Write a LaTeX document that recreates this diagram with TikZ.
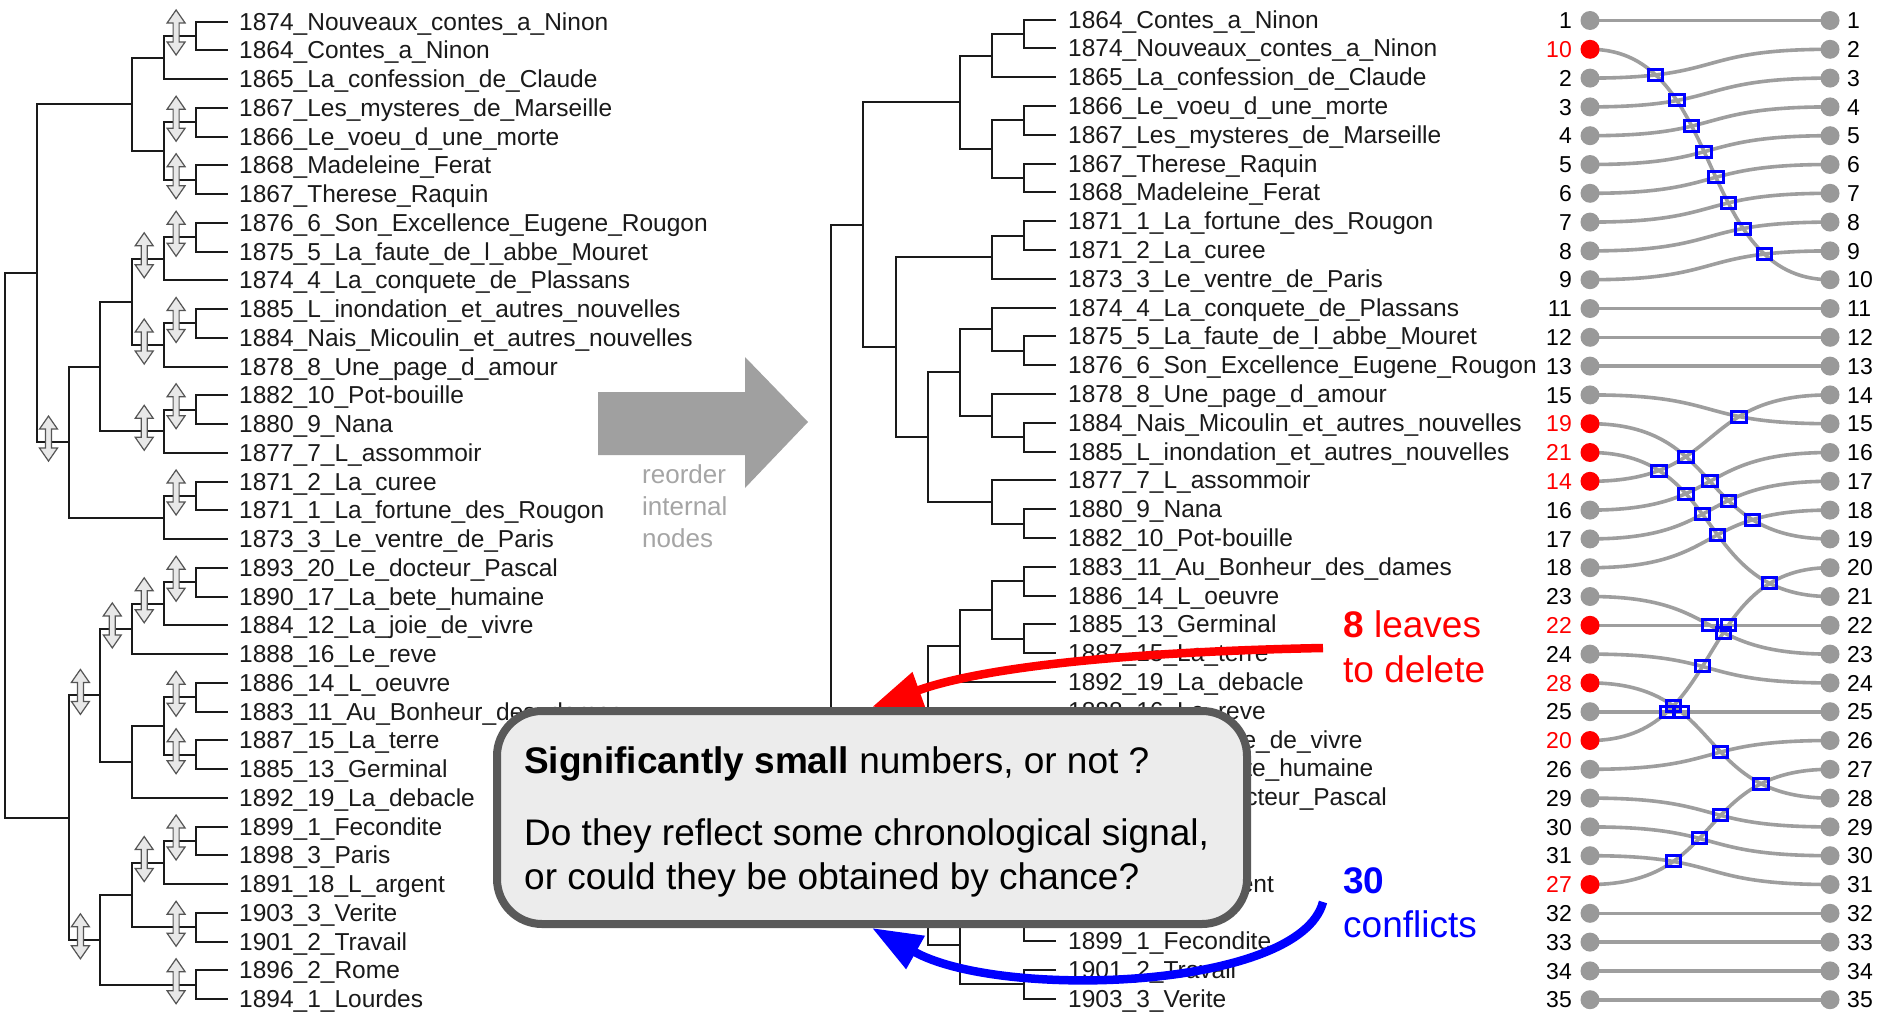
\documentclass[tikz,border=0pt]{standalone}
\usepackage{fontspec}
\setmainfont{Liberation Sans}
\usetikzlibrary{calc,arrows.meta}

\definecolor{treeink}{HTML}{1A1A1A}
\definecolor{linkgray}{HTML}{9E9E9E}
\definecolor{dotgray}{HTML}{999999}
\definecolor{bigarrowgray}{HTML}{A0A0A0}
\definecolor{notegray}{HTML}{A5A5A5}
\definecolor{boxfill}{HTML}{ECECEC}
\definecolor{boxedge}{HTML}{595959}
\definecolor{swapfill}{HTML}{E8E8E8}
\definecolor{swapedge}{HTML}{555555}
\definecolor{delred}{HTML}{FF0000}
\definecolor{conflictblue}{HTML}{0000FF}

% internal node: name, level coordinate, upper child, lower child
\newcommand\joinclade[4]{%
  \coordinate (#1m) at ($(#3)!0.5!(#4)$);
  \coordinate (#1) at (#2 |- #1m);
  \draw[branch] (#3) -| (#1) |- (#4);
}
% double arrow marking a rotated node
\newcommand\swapmark[1]{%
  \draw[swapglyph] ($(#1)+(-20,-3.5)$) ++(0,-22.5) -- ++(9,13) -- ++(-6,0) -- ++(0,19)
    -- ++(6,0) -- ++(-9,13) -- ++(-9,-13) -- ++(6,0) -- ++(0,-19) -- ++(-6,0) -- cycle;
}
% crossing of two links: row1, value1, row2, value2
\newcommand\conflict[4]{%
  \pgfmathsetmacro\cfS{(#3-#1)/((#3-#1)+(#2-#4))}%
  \pgfmathsetmacro\cfT{0.5-sin(asin(1-2*\cfS)/3)}%
  \pgfmathsetmacro\cfX{1590+405*\cfT*(1-\cfT)^2+315*\cfT^2*(1-\cfT)+240*\cfT^3}%
  \pgfmathsetmacro\cfY{20.5+28.8*(#1-1+\cfS*(#2-#1))}%
  \node[conflictbox] (k#1x#3) at (\cfX,\cfY) {};
}

\begin{document}
\begin{tikzpicture}[x=1pt,y=-1pt,
  branch/.style={draw=treeink,line width=2pt},
  swapglyph/.style={draw=swapedge,fill=swapfill,line width=1.2pt,line join=miter},
  leaftext/.style={anchor=base west,inner sep=0pt,text=treeink,font=\fontsize{24.5}{28}\selectfont},
  link/.style={draw=linkgray,line width=3.6pt},
  leafdot/.style={circle,inner sep=0pt,minimum size=19pt},
  numtext/.style={inner sep=0pt,font=\fontsize{23}{26}\selectfont},
  conflictbox/.style={draw=conflictblue,line width=3pt,minimum width=14.5pt,minimum height=11pt,inner sep=0pt},
  callout/.style={draw=boxedge,fill=boxfill,line width=8pt,rounded corners=45pt,minimum width=750pt,minimum height=213pt,inner sep=0pt},
  boxtext/.style={anchor=base west,inner sep=0pt,text=black,font=\fontsize{37}{44}\selectfont},
  sidetext/.style={anchor=base west,inner sep=0pt,font=\fontsize{37}{44}\selectfont},
  reordertext/.style={anchor=base west,inner sep=0pt,text=notegray,font=\fontsize{26}{32}\selectfont},
  pointer/.style={line width=8.5pt,-{Triangle[length=50pt,width=36pt]}}
]
\fill[white] (0,0) rectangle (1883,1017);
\useasboundingbox (0,0) rectangle (1883,1017);

% ---------------- original tree ----------------
\foreach \h/\xx in {1/196.1,2/164.2,3/132.3,4/100.4,5/68.5,6/36.6,7/4.7}
  \coordinate (AX\h) at (\xx,0);
\foreach \i/\t in {
  1/1874\_Nouveaux\_contes\_a\_Ninon,
  2/1864\_Contes\_a\_Ninon,
  3/1865\_La\_confession\_de\_Claude,
  4/1867\_Les\_mysteres\_de\_Marseille,
  5/1866\_Le\_voeu\_d\_une\_morte,
  6/1868\_Madeleine\_Ferat,
  7/1867\_Therese\_Raquin,
  8/1876\_6\_Son\_Excellence\_Eugene\_Rougon,
  9/1875\_5\_La\_faute\_de\_l\_abbe\_Mouret,
  10/1874\_4\_La\_conquete\_de\_Plassans,
  11/1885\_L\_inondation\_et\_autres\_nouvelles,
  12/1884\_Nais\_Micoulin\_et\_autres\_nouvelles,
  13/1878\_8\_Une\_page\_d\_amour,
  14/1882\_10\_Pot-bouille,
  15/1880\_9\_Nana,
  16/1877\_7\_L\_assommoir,
  17/1871\_2\_La\_curee,
  18/1871\_1\_La\_fortune\_des\_Rougon,
  19/1873\_3\_Le\_ventre\_de\_Paris,
  20/1893\_20\_Le\_docteur\_Pascal,
  21/1890\_17\_La\_bete\_humaine,
  22/1884\_12\_La\_joie\_de\_vivre,
  23/1888\_16\_Le\_reve,
  24/1886\_14\_L\_oeuvre,
  25/1883\_11\_Au\_Bonheur\_des\_dames,
  26/1887\_15\_La\_terre,
  27/1885\_13\_Germinal,
  28/1892\_19\_La\_debacle,
  29/1899\_1\_Fecondite,
  30/1898\_3\_Paris,
  31/1891\_18\_L\_argent,
  32/1903\_3\_Verite,
  33/1901\_2\_Travail,
  34/1896\_2\_Rome,
  35/1894\_1\_Lourdes}{
  \coordinate (A\i) at (228,{21.6+28.75*(\i-1)});
  \node[leaftext] (At\i) at ($(A\i)+(11,8.6)$) {\t};
}
\joinclade{a12}{AX1}{A1}{A2}
\joinclade{a13}{AX2}{a12}{A3}
\joinclade{a45}{AX1}{A4}{A5}
\joinclade{a67}{AX1}{A6}{A7}
\joinclade{a47}{AX2}{a45}{a67}
\joinclade{a17}{AX3}{a13}{a47}
\joinclade{a89}{AX1}{A8}{A9}
\joinclade{a810}{AX2}{a89}{A10}
\joinclade{a1112}{AX1}{A11}{A12}
\joinclade{a1113}{AX2}{a1112}{A13}
\joinclade{a813}{AX3}{a810}{a1113}
\joinclade{a1415}{AX1}{A14}{A15}
\joinclade{a1416}{AX2}{a1415}{A16}
\joinclade{a816}{AX4}{a813}{a1416}
\joinclade{a1718}{AX1}{A17}{A18}
\joinclade{a1719}{AX2}{a1718}{A19}
\joinclade{a819}{AX5}{a816}{a1719}
\joinclade{a119}{AX6}{a17}{a819}
\joinclade{a2021}{AX1}{A20}{A21}
\joinclade{a2022}{AX2}{a2021}{A22}
\joinclade{a2023}{AX3}{a2022}{A23}
\joinclade{a2425}{AX1}{A24}{A25}
\joinclade{a2627}{AX1}{A26}{A27}
\joinclade{a2427}{AX2}{a2425}{a2627}
\joinclade{a2428}{AX3}{a2427}{A28}
\joinclade{a2028}{AX4}{a2023}{a2428}
\joinclade{a2930}{AX1}{A29}{A30}
\joinclade{a2931}{AX2}{a2930}{A31}
\joinclade{a3233}{AX1}{A32}{A33}
\joinclade{a2933}{AX3}{a2931}{a3233}
\joinclade{a3435}{AX1}{A34}{A35}
\joinclade{a2935}{AX4}{a2933}{a3435}
\joinclade{a2035}{AX5}{a2028}{a2935}
\joinclade{aroot}{AX7}{a119}{a2035}

\foreach \n in {a12,a45,a67,a89,a1112,a1415,a1718,a2021,a2425,a2627,a2930,a3233,a3435,
                a810,a1113,a1416,a2022,a2931,a2023,a2028,a2935,a819}
  \swapmark{\n};

% ---------------- reordered tree ----------------
\foreach \h/\xx in {1/1023.9,2/991.8,3/959.7,4/927.6,5/895.5,6/863.4,7/831.3}
  \coordinate (BX\h) at (\xx,0);
\foreach \i in {1,...,35}
  \coordinate (B\i) at (1056,{19.5+28.8*(\i-1)});
\foreach \i/\t in {
  1/1864\_Contes\_a\_Ninon,
  2/1874\_Nouveaux\_contes\_a\_Ninon,
  3/1865\_La\_confession\_de\_Claude,
  4/1866\_Le\_voeu\_d\_une\_morte,
  5/1867\_Les\_mysteres\_de\_Marseille,
  6/1867\_Therese\_Raquin,
  7/1868\_Madeleine\_Ferat,
  8/1871\_1\_La\_fortune\_des\_Rougon,
  9/1871\_2\_La\_curee,
  10/1873\_3\_Le\_ventre\_de\_Paris,
  11/1874\_4\_La\_conquete\_de\_Plassans,
  12/1875\_5\_La\_faute\_de\_l\_abbe\_Mouret,
  13/1876\_6\_Son\_Excellence\_Eugene\_Rougon,
  14/1878\_8\_Une\_page\_d\_amour,
  15/1884\_Nais\_Micoulin\_et\_autres\_nouvelles,
  16/1885\_L\_inondation\_et\_autres\_nouvelles,
  17/1877\_7\_L\_assommoir,
  18/1880\_9\_Nana,
  19/1882\_10\_Pot-bouille,
  20/1883\_11\_Au\_Bonheur\_des\_dames,
  21/1886\_14\_L\_oeuvre,
  22/1885\_13\_Germinal,
  23/1887\_15\_La\_terre,
  24/1892\_19\_La\_debacle,
  25/1888\_16\_Le\_reve,
  26/1884\_12\_La\_joie\_de\_vivre,
  27/1890\_17\_La\_bete\_humaine,
  28/1893\_20\_Le\_docteur\_Pascal,
  31/1891\_18\_L\_argent,
  33/1899\_1\_Fecondite,
  34/1901\_2\_Travail,
  35/1903\_3\_Verite}{
  \node[leaftext] (Bt\i) at ($(B\i)+(12,8.6)$) {\t};
}
\joinclade{b12}{BX1}{B1}{B2}
\joinclade{b13}{BX2}{b12}{B3}
\joinclade{b45}{BX1}{B4}{B5}
\joinclade{b67}{BX1}{B6}{B7}
\joinclade{b47}{BX2}{b45}{b67}
\joinclade{b17}{BX3}{b13}{b47}
\joinclade{b89}{BX1}{B8}{B9}
\joinclade{b810}{BX2}{b89}{B10}
\joinclade{b1213}{BX1}{B12}{B13}
\joinclade{b1113}{BX2}{B11}{b1213}
\joinclade{b1516}{BX1}{B15}{B16}
\joinclade{b1416}{BX2}{B14}{b1516}
\joinclade{b1116}{BX3}{b1113}{b1416}
\joinclade{b1819}{BX1}{B18}{B19}
\joinclade{b1719}{BX2}{B17}{b1819}
\joinclade{b1119}{BX4}{b1116}{b1719}
\joinclade{b819}{BX5}{b810}{b1119}
\joinclade{b119}{BX6}{b17}{b819}
\joinclade{b2021}{BX1}{B20}{B21}
\joinclade{b2223}{BX1}{B22}{B23}
\joinclade{b2023}{BX2}{b2021}{b2223}
\joinclade{b2024}{BX3}{b2023}{B24}
\joinclade{b2728}{BX1}{B27}{B28}
\joinclade{b2628}{BX2}{B26}{b2728}
\joinclade{b2528}{BX3}{B25}{b2628}
\joinclade{b2028}{BX4}{b2024}{b2528}
\joinclade{b2930}{BX1}{B29}{B30}
\joinclade{b3233}{BX1}{B32}{B33}
\joinclade{b3133}{BX2}{B31}{b3233}
\joinclade{b3435}{BX1}{B34}{B35}
\joinclade{b3135}{BX3}{b3133}{b3435}
\joinclade{b2935}{BX4}{b2930}{b3135}
\joinclade{b2035}{BX5}{b2028}{b2935}
\joinclade{broot}{BX7}{b119}{b2035}

% ---------------- reorder arrow ----------------
\fill[bigarrowgray] (598,392) -- (745,392) -- (745,357) -- (808,422) -- (745,488) -- (745,455) -- (598,455) -- cycle;
\node[reordertext] (ro1) at (642,483) {reorder};
\node[reordertext] (ro2) at (642,515) {internal};
\node[reordertext] (ro3) at (642,547) {nodes};

% ---------------- tanglegram ----------------
\foreach \r in {1,...,35}{
  \coordinate (P\r) at (1590,{20.5+28.8*(\r-1)});
  \coordinate (Q\r) at (1830,{20.5+28.8*(\r-1)});
}
\foreach \r/\v in {1/1,2/10,3/2,4/3,5/4,6/5,7/6,8/7,9/8,10/9,11/11,12/12,13/13,14/15,15/19,
  16/21,17/14,18/16,19/17,20/18,21/23,22/22,23/24,24/28,25/25,26/20,27/26,28/29,29/30,
  30/31,31/27,32/32,33/33,34/34,35/35}
  \draw[link] (P\r) .. controls +(135,0) and +(-135,0) .. (Q\v);

\conflict{2}{10}{3}{2}  \conflict{2}{10}{4}{3}  \conflict{2}{10}{5}{4}  \conflict{2}{10}{6}{5}
\conflict{2}{10}{7}{6}  \conflict{2}{10}{8}{7}  \conflict{2}{10}{9}{8}  \conflict{2}{10}{10}{9}
\conflict{14}{15}{17}{14}
\conflict{15}{19}{17}{14} \conflict{15}{19}{18}{16} \conflict{15}{19}{19}{17} \conflict{15}{19}{20}{18}
\conflict{16}{21}{17}{14} \conflict{16}{21}{18}{16} \conflict{16}{21}{19}{17} \conflict{16}{21}{20}{18}
\conflict{16}{21}{26}{20}
\conflict{21}{23}{22}{22} \conflict{21}{23}{26}{20}
\conflict{22}{22}{26}{20}
\conflict{23}{24}{26}{20}
\conflict{24}{28}{25}{25} \conflict{24}{28}{26}{20} \conflict{24}{28}{27}{26} \conflict{24}{28}{31}{27}
\conflict{25}{25}{26}{20}
\conflict{28}{29}{31}{27} \conflict{29}{30}{31}{27} \conflict{30}{31}{31}{27}

\foreach \r/\v/\c/\tc in {1/1/dotgray/black,2/10/delred/delred,3/2/dotgray/black,4/3/dotgray/black,
  5/4/dotgray/black,6/5/dotgray/black,7/6/dotgray/black,8/7/dotgray/black,9/8/dotgray/black,
  10/9/dotgray/black,11/11/dotgray/black,12/12/dotgray/black,13/13/dotgray/black,
  14/15/dotgray/black,15/19/delred/delred,16/21/delred/delred,17/14/delred/delred,
  18/16/dotgray/black,19/17/dotgray/black,20/18/dotgray/black,21/23/dotgray/black,
  22/22/delred/delred,23/24/dotgray/black,24/28/delred/delred,25/25/dotgray/black,
  26/20/delred/delred,27/26/dotgray/black,28/29/dotgray/black,29/30/dotgray/black,
  30/31/dotgray/black,31/27/delred/delred,32/32/dotgray/black,33/33/dotgray/black,
  34/34/dotgray/black,35/35/dotgray/black}{
  \node[leafdot,fill=\c] (dl\r) at (P\r) {};
  \node[leafdot,fill=dotgray] (dr\r) at (Q\r) {};
  \node[numtext,anchor=base east,text=\tc] (nl\r) at ($(P\r)+(-18,8.2)$) {\v};
  \node[numtext,anchor=base west,text=black] (nr\r) at ($(Q\r)+(17,8.2)$) {\r};
}

% ---------------- side notes and pointers ----------------
\coordinate (redstart) at (1323,648);
\coordinate (redend) at (872,707);
\coordinate (bluestart) at (1323,902);
\coordinate (blueend) at (872,928);
\draw[pointer,draw=delred] (redstart) .. controls (1120,652) and (980,668) .. (redend);
\draw[pointer,draw=conflictblue] (bluestart) .. controls (1300,990) and (1000,1000) .. (blueend);

\node[sidetext,text=delred] (del1) at (1343,637) {\textbf{8} leaves};
\node[sidetext,text=delred] (del2) at (1343,682) {to delete};
\node[sidetext,text=conflictblue] (con1) at (1343,893) {\textbf{30}};
\node[sidetext,text=conflictblue] (con2) at (1343,937) {conflicts};

% ---------------- question box ----------------
\node[callout] (note) at (872,817.5) {};
\node[boxtext] (q1) at (524,773) {\textbf{Significantly small} numbers, or not ?};
\node[boxtext] (q2) at (524,845.5) {Do they reflect some chronological signal,};
\node[boxtext] (q3) at (524,889) {or could they be obtained by chance?};
\end{tikzpicture}
\end{document}
